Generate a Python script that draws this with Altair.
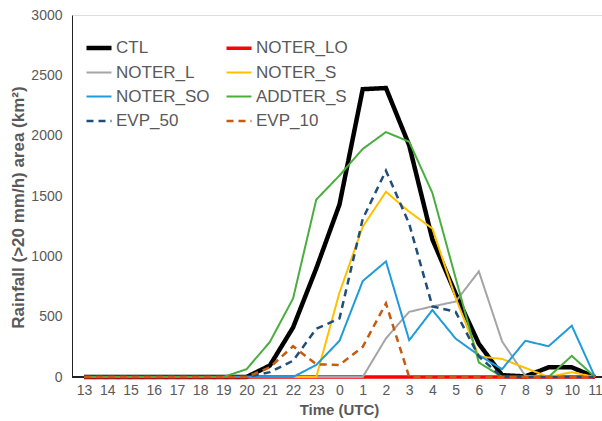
import altair as alt
import pandas as pd

hours = ["13", "14", "15", "16", "17", "18", "19", "20", "21", "22", "23",
         "0", "1", "2", "3", "4", "5", "6", "7", "8", "9", "10", "11"]

series = ["CTL", "NOTER_LO", "NOTER_L", "NOTER_S", "NOTER_SO", "ADDTER_S", "EVP_50", "EVP_10"]

ctl      = [0, 0, 0, 0, 0, 0, 0, 0, 95, 410, 900, 1430, 2385, 2395, 1920, 1140, 690, 275, 15, 5, 80, 80, 0]
noter_lo = [0, 0, 0, 0, 0, 0, 0, 0, 0, 0, 0, 0, 0, 0, 0, 0, 0, 0, 0, 0, 0, 0, 0]
noter_l  = [0, 0, 0, 0, 0, 0, 0, 0, 0, 0, 0, 0, 0, 320, 540, 585, 625, 875, 295, 10, 0, 0, 0]
noter_s  = [0, 0, 0, 0, 0, 0, 0, 0, 0, 0, 0, 700, 1245, 1535, 1370, 1230, 655, 170, 150, 75, 0, 40, 0]
noter_so = [0, 0, 0, 0, 0, 0, 0, 0, 0, 0, 100, 300, 795, 958, 305, 555, 318, 180, 65, 300, 255, 425, 0]
addter_s = [0, 0, 0, 0, 0, 0, 0, 65, 290, 650, 1470, 1670, 1890, 2030, 1950, 1525, 820, 120, 0, 0, 0, 175, 0]
evp_50   = [0, 0, 0, 0, 0, 0, 0, 0, 40, 135, 400, 485, 1310, 1710, 1270, 585, 540, 170, 0, 0, 0, 0, 0]
evp_10   = [0, 0, 0, 0, 0, 0, 0, 0, 80, 255, 105, 100, 250, 610, 0, 0, 0, 0, 0, 0, 0, 0, 0]

values = [ctl, noter_lo, noter_l, noter_s, noter_so, addter_s, evp_50, evp_10]
colors = {"CTL": "#000000", "NOTER_LO": "#FF0000", "NOTER_L": "#A5A5A5", "NOTER_S": "#FFC000",
          "NOTER_SO": "#1F9BDB", "ADDTER_S": "#4AAE3F", "EVP_50": "#1F4E79", "EVP_10": "#C55A11"}
widths = {"CTL": 4.5, "NOTER_LO": 3.5, "NOTER_L": 2, "NOTER_S": 2, "NOTER_SO": 2,
          "ADDTER_S": 2, "EVP_50": 2.5, "EVP_10": 2.5}
dashes = {"CTL": [1, 0], "NOTER_LO": [1, 0], "NOTER_L": [1, 0], "NOTER_S": [1, 0],
          "NOTER_SO": [1, 0], "ADDTER_S": [1, 0], "EVP_50": [7, 5], "EVP_10": [7, 5]}

# legend fills column by column: order so that rows read CTL/NOTER_LO, NOTER_L/NOTER_S, ...
legend_order = series[0::2] + series[1::2]

rows = []
for s_i, (name, vals) in enumerate(zip(series, values)):
    for h_i, (h, v) in enumerate(zip(hours, vals)):
        rows.append({"series": name, "hour": h, "value": v, "order": h_i, "sidx": s_i})
df = pd.DataFrame(rows)

FONT = "Liberation Sans"
GRAY = "#595959"

x_enc = alt.X("hour:O", sort=hours,
              scale=alt.Scale(type="point", range=[12, 523], padding=0),
              axis=alt.Axis(title="Time (UTC)", domain=False, ticks=False, labelAngle=0,
                            labelFontSize=14, labelColor=GRAY, labelFont=FONT, labelPadding=6,
                            titleFontSize=15, titleFont=FONT, titleColor=GRAY, titleFontWeight="bold",
                            titleX=267, titleY=32, titleBaseline="middle", titleAlign="center",
                            grid=False))
y_enc = alt.Y("value:Q",
              scale=alt.Scale(domain=[0, 3000], nice=False),
              axis=alt.Axis(title="Rainfall (>20 mm/h) area (km²)", values=[0, 500, 1000, 1500, 2000, 2500, 3000],
                            format="d", ticks=False, grid=False, domainColor="#222222", domainWidth=1,
                            labelFontSize=14, labelColor=GRAY, labelFont=FONT, labelPadding=10,
                            titleFontSize=17, titleFont=FONT, titleColor=GRAY, titleFontWeight="bold",
                            titleX=-54, titleY=192, titleAngle=-90, titleBaseline="middle",
                            titleAlign="center"))

leg = alt.Legend(orient="none", legendX=12, legendY=18, columns=2, title=None,
                 symbolType="stroke", symbolSize=625, labelFontSize=17, labelColor=GRAY,
                 labelFont=FONT, rowPadding=2, columnPadding=9, labelOffset=2)

baseline = alt.Chart(df).mark_rule(color="#222222", strokeWidth=1).encode(y=alt.datum(0))

lines = alt.Chart(df).mark_line(strokeCap="butt", strokeJoin="miter").encode(
    x=x_enc,
    y=y_enc,
    color=alt.Color("series:N", sort=legend_order,
                    scale=alt.Scale(domain=legend_order, range=[colors[s] for s in legend_order]),
                    legend=leg),
    strokeWidth=alt.StrokeWidth("series:N", sort=legend_order,
                                scale=alt.Scale(type="ordinal", domain=legend_order,
                                                range=[widths[s] for s in legend_order]),
                                legend=leg),
    strokeDash=alt.StrokeDash("series:N", sort=legend_order,
                              scale=alt.Scale(domain=legend_order, range=[dashes[s] for s in legend_order]),
                              legend=leg),
    order="order:Q",
)

chart = alt.layer(baseline, lines).properties(
    width=530, height=362,
    autosize=alt.AutoSizeParams(type="none"),
    padding={"left": 72, "top": 15, "right": 0, "bottom": 44},
).configure_view(stroke=None).configure(background="white")

chart.save("out.html", embed_options={"renderer": "svg", "actions": False})
